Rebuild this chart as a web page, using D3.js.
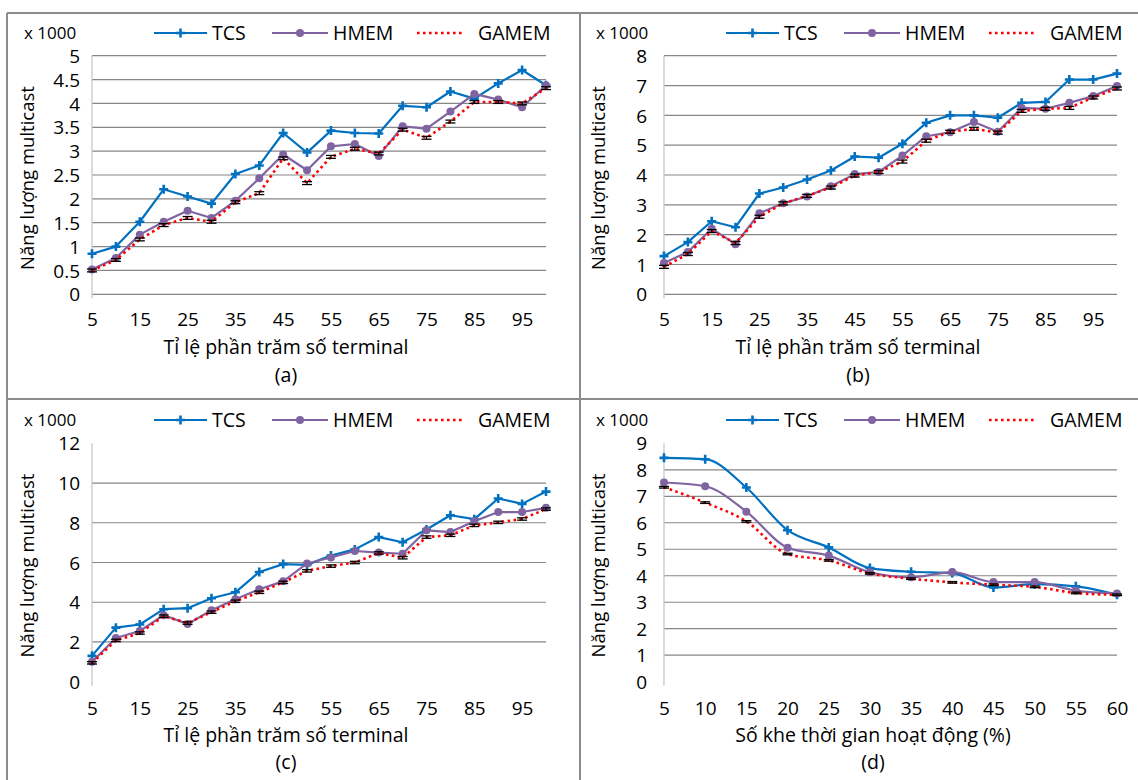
<!DOCTYPE html>
<html>
<head>
<meta charset="utf-8">
<script src="https://cdn.jsdelivr.net/npm/d3@7/dist/d3.min.js"></script>
<style>
  body { margin: 0; background: #fff; }
  text { font-family: "Open Sans", "Noto Sans", sans-serif; fill: #000; }
</style>
</head>
<body>
<div id="chart"></div>
<script>
// categories
const pct = [5, 10, 15, 20, 25, 30, 35, 40, 45, 50, 55, 60, 65, 70, 75, 80, 85, 90, 95, 100];
const pctTicks = [5, 15, 25, 35, 45, 55, 65, 75, 85, 95];
const slots = [5, 10, 15, 20, 25, 30, 35, 40, 45, 50, 55, 60];

// y tick labels
const yTicksA = [0, 0.5, 1, 1.5, 2, 2.5, 3, 3.5, 4, 4.5, 5];
const yTicksB = [0, 1, 2, 3, 4, 5, 6, 7, 8];
const yTicksC = [0, 2, 4, 6, 8, 10, 12];
const yTicksD = [0, 1, 2, 3, 4, 5, 6, 7, 8, 9];

// (a)
const tcsA   = [0.85, 1.0, 1.52, 2.2, 2.05, 1.9, 2.52, 2.7, 3.38, 2.97, 3.43, 3.38, 3.37, 3.95, 3.92, 4.25, 4.1, 4.42, 4.7, 4.38];
const hmemA  = [0.52, 0.76, 1.25, 1.52, 1.75, 1.6, 1.96, 2.43, 2.93, 2.6, 3.1, 3.15, 2.9, 3.52, 3.47, 3.83, 4.2, 4.08, 3.92, 4.38];
const gamemA = [0.5, 0.72, 1.15, 1.45, 1.6, 1.52, 1.93, 2.12, 2.85, 2.33, 2.88, 3.05, 2.95, 3.45, 3.28, 3.62, 4.03, 4.03, 4.0, 4.32];
// (b)
const tcsB   = [1.28, 1.75, 2.45, 2.25, 3.38, 3.58, 3.85, 4.15, 4.62, 4.58, 5.05, 5.75, 6.0, 6.0, 5.92, 6.42, 6.45, 7.2, 7.2, 7.4];
const hmemB  = [1.05, 1.42, 2.2, 1.68, 2.72, 3.05, 3.28, 3.62, 4.03, 4.1, 4.65, 5.3, 5.43, 5.78, 5.45, 6.25, 6.22, 6.42, 6.65, 6.98];
const gamemB = [0.92, 1.35, 2.12, 1.72, 2.6, 3.05, 3.3, 3.58, 3.98, 4.1, 4.45, 5.15, 5.45, 5.55, 5.42, 6.15, 6.22, 6.25, 6.6, 6.9];
// (c)
const tcsC   = [1.3, 2.72, 2.88, 3.65, 3.7, 4.2, 4.5, 5.52, 5.92, 5.88, 6.35, 6.66, 7.28, 7.02, 7.66, 8.38, 8.18, 9.22, 8.95, 9.57];
const hmemC  = [1.0, 2.2, 2.55, 3.35, 2.9, 3.6, 4.15, 4.65, 5.05, 5.95, 6.25, 6.58, 6.5, 6.44, 7.62, 7.53, 8.08, 8.54, 8.54, 8.75];
const gamemC = [0.95, 2.08, 2.45, 3.3, 2.95, 3.5, 4.05, 4.5, 5.0, 5.58, 5.82, 6.0, 6.48, 6.24, 7.28, 7.37, 7.87, 8.02, 8.19, 8.69];
// (d)
const tcsD   = [8.45, 8.4, 7.33, 5.72, 5.07, 4.29, 4.15, 4.1, 3.56, 3.68, 3.6, 3.28];
const hmemD  = [7.52, 7.38, 6.42, 5.06, 4.76, 4.13, 3.94, 4.14, 3.76, 3.76, 3.44, 3.33];
const gamemD = [7.34, 6.76, 6.05, 4.82, 4.58, 4.09, 3.89, 3.75, 3.66, 3.58, 3.35, 3.28];

// GAMEM error (half height, x 1000)
const errA = 0.03, errB = 0.05, errC = 0.06, errD = 0.03;

const series = ['TCS', 'HMEM', 'GAMEM'];
const colors = { TCS: '#0070c0', HMEM: '#8064a2', GAMEM: '#ff0000' };

const W = 1138, H = 780;
const svg = d3.select('#chart').append('svg').attr('width', W).attr('height', H);

const panels = [
  { tag: '(a)', cats: pct, xTicks: pctTicks, yTicks: yTicksA, data: [tcsA, hmemA, gamemA], err: errA,
    xTitle: 'Tỉ lệ phần trăm số terminal',
    left: 92, right: 546, top: 55.7, bottom: 294.3, labelRight: 80, yTitleX: 28, headY: 33, headX: 24,
    legX: 154, xLabY: 319, titleX: 286, titleY: 347, tagY: 375, edgeGrid: true, smooth: false },
  { tag: '(b)', cats: pct, xTicks: pctTicks, yTicks: yTicksB, data: [tcsB, hmemB, gamemB], err: errB,
    xTitle: 'Tỉ lệ phần trăm số terminal',
    left: 664, right: 1117, top: 55.7, bottom: 294.3, labelRight: 647, yTitleX: 599, headY: 33, headX: 596,
    legX: 726, xLabY: 319, titleX: 858, titleY: 347, tagY: 375, edgeGrid: true, smooth: false },
  { tag: '(c)', cats: pct, xTicks: pctTicks, yTicks: yTicksC, data: [tcsC, hmemC, gamemC], err: errC,
    xTitle: 'Tỉ lệ phần trăm số terminal',
    left: 92, right: 546, top: 443.3, bottom: 681.7, labelRight: 80, yTitleX: 28, headY: 420, headX: 24,
    legX: 154, xLabY: 708, titleX: 286, titleY: 735, tagY: 762, edgeGrid: false, smooth: false },
  { tag: '(d)', cats: slots, xTicks: slots, yTicks: yTicksD, data: [tcsD, hmemD, gamemD], err: errD,
    xTitle: 'Số khe thời gian hoạt động (%)',
    left: 664, right: 1117, top: 443.3, bottom: 681.7, labelRight: 647, yTitleX: 599, headY: 420, headX: 596,
    legX: 726, xLabY: 708, titleX: 873, titleY: 735, tagY: 762, edgeGrid: false, smooth: true }
];

// panel frames
const frame = svg.append('g').attr('stroke', '#8c8c8c').attr('stroke-width', 2).attr('fill', 'none');
frame.append('line').attr('x1', 7).attr('y1', 13).attr('x2', W).attr('y2', 13);
frame.append('line').attr('x1', 7).attr('y1', 13).attr('x2', 7).attr('y2', H);
frame.append('line').attr('x1', 580).attr('y1', 13).attr('x2', 580).attr('y2', H);
frame.append('line').attr('x1', 7).attr('y1', 399).attr('x2', W).attr('y2', 399);

function crossPath(cx, cy, s) {
  return 'M' + (cx - s) + ',' + cy + 'H' + (cx + s) + 'M' + cx + ',' + (cy - s) + 'V' + (cy + s);
}

panels.forEach(p => {
  const g = svg.append('g');
  const yMax = p.yTicks[p.yTicks.length - 1];

  const x = d3.scalePoint().domain(p.cats).range([p.left, p.right]).padding(0);
  const y = d3.scaleLinear().domain([0, yMax]).range([p.bottom, p.top]);

  // grid lines
  const gridVals = p.edgeGrid ? p.yTicks : p.yTicks.filter(v => v !== 0 && v !== yMax);
  g.append('g').selectAll('line').data(gridVals).enter().append('line')
    .attr('x1', p.left).attr('x2', p.right)
    .attr('y1', d => y(d)).attr('y2', d => y(d))
    .attr('stroke', '#868686').attr('stroke-width', 1.2);

  // y axis line
  g.append('line')
    .attr('x1', p.left).attr('x2', p.left)
    .attr('y1', p.top).attr('y2', p.bottom + 4)
    .attr('stroke', '#c4c4c4').attr('stroke-width', 1.2);

  // y axis labels
  const yAxis = d3.axisLeft(y).tickValues(p.yTicks).tickSize(0).tickFormat(d3.format('~g'));
  const yg = g.append('g').attr('transform', 'translate(' + p.left + ',0)').call(yAxis);
  yg.select('.domain').remove();
  yg.selectAll('text')
    .attr('x', p.labelRight - p.left).attr('dy', '0.35em')
    .style('font-size', '19px').style('font-family', '"Open Sans", sans-serif').attr('fill', '#000');

  // x axis labels
  const xAxis = d3.axisBottom(x).tickValues(p.xTicks).tickSize(0);
  const xg = g.append('g').attr('transform', 'translate(0,' + p.bottom + ')').call(xAxis);
  xg.select('.domain').remove();
  xg.selectAll('text')
    .attr('y', p.xLabY - p.bottom).attr('dy', '0.35em')
    .style('font-size', '19px').style('font-family', '"Open Sans", sans-serif').attr('fill', '#000');

  // titles
  g.append('text').attr('x', p.titleX).attr('y', p.titleY).attr('dy', '0.35em')
    .attr('text-anchor', 'middle').style('font-size', '19.5px').text(p.xTitle);
  g.append('text').attr('x', p.titleX).attr('y', p.tagY).attr('dy', '0.35em')
    .attr('text-anchor', 'middle').style('font-size', '19.5px').text(p.tag);
  g.append('text')
    .attr('transform', 'translate(' + p.yTitleX + ',' + ((p.top + p.bottom) / 2 + 3) + ') rotate(-90)')
    .attr('dy', '0.35em').attr('text-anchor', 'middle').style('font-size', '18.5px')
    .text('Năng lượng multicast');
  g.append('text').attr('x', p.headX).attr('y', p.headY).attr('dy', '0.35em')
    .style('font-size', '17px').text('x 1000');

  // lines
  const line = d3.line()
    .x((d, i) => x(p.cats[i]))
    .y(d => y(d))
    .curve(p.smooth ? d3.curveMonotoneX : d3.curveLinear);

  series.forEach((s, si) => {
    const vals = p.data[si];
    const path = g.append('path').attr('d', line(vals))
      .attr('fill', 'none').attr('stroke', colors[s]);
    if (s === 'GAMEM') {
      path.attr('stroke-width', 2.6).attr('stroke-dasharray', '2.6,3.4');
    } else {
      path.attr('stroke-width', 2.2).attr('stroke-linejoin', 'round');
    }
    if (s === 'TCS') {
      g.append('g').selectAll('path').data(vals).enter().append('path')
        .attr('d', (d, i) => crossPath(x(p.cats[i]), y(d), 4.5))
        .attr('stroke', colors[s]).attr('stroke-width', 2.6);
    }
    if (s === 'HMEM') {
      g.append('g').selectAll('circle').data(vals).enter().append('circle')
        .attr('cx', (d, i) => x(p.cats[i])).attr('cy', d => y(d)).attr('r', 4)
        .attr('fill', colors[s]);
    }
  });

  // error bars on GAMEM
  const eb = g.append('g').attr('stroke', '#000').attr('stroke-width', 1.3);
  p.data[2].forEach((v, i) => {
    const cx = x(p.cats[i]);
    const y1 = y(v - p.err), y2 = y(v + p.err);
    eb.append('line').attr('x1', cx).attr('x2', cx).attr('y1', y1).attr('y2', y2);
    eb.append('line').attr('x1', cx - 5).attr('x2', cx + 5).attr('y1', y1).attr('y2', y1);
    eb.append('line').attr('x1', cx - 5).attr('x2', cx + 5).attr('y1', y2).attr('y2', y2);
  });

  // legend
  const legOff = [
    { l0: 0, l1: 53, t: 58 },
    { l0: 118, l1: 174, t: 179 },
    { l0: 263, l1: 311, t: 324 }
  ];
  const leg = g.append('g').attr('transform', 'translate(' + p.legX + ',' + p.headY + ')');
  series.forEach((s, si) => {
    const o = legOff[si];
    const ln = leg.append('line').attr('x1', o.l0).attr('x2', o.l1).attr('y1', 0).attr('y2', 0)
      .attr('stroke', colors[s]);
    if (s === 'GAMEM') ln.attr('stroke-width', 2.6).attr('stroke-dasharray', '2.6,3.4');
    else ln.attr('stroke-width', 2.2);
    const mid = (o.l0 + o.l1) / 2;
    if (s === 'TCS') leg.append('path').attr('d', crossPath(mid, 0, 4.5)).attr('stroke', colors[s]).attr('stroke-width', 2.6);
    if (s === 'HMEM') leg.append('circle').attr('cx', mid).attr('cy', 0).attr('r', 4).attr('fill', colors[s]);
    leg.append('text').attr('x', o.t).attr('y', 0).attr('dy', '0.35em')
      .style('font-size', '19.5px').text(s);
  });
});
</script>
</body>
</html>
